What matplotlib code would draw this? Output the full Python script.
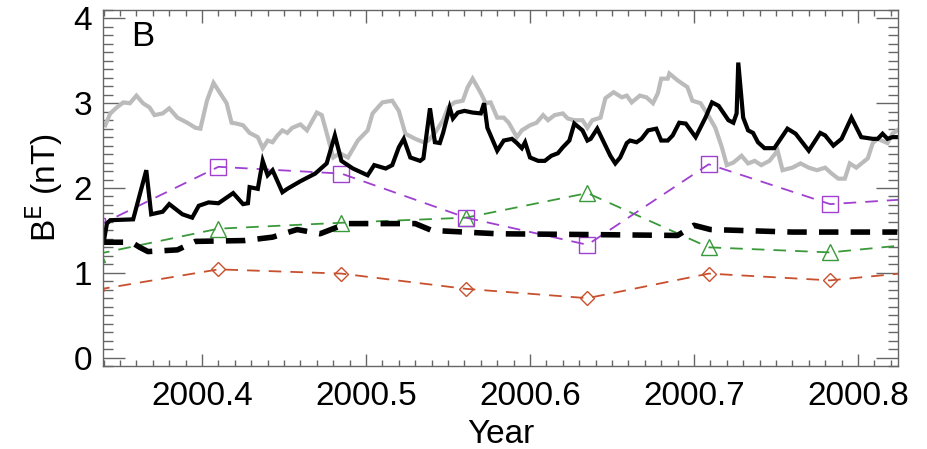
import numpy as np
import matplotlib
matplotlib.use('Agg')
import matplotlib.pyplot as plt
from matplotlib.ticker import MultipleLocator

plt.rcParams['font.family'] = ['Liberation Sans', 'DejaVu Sans']

# daily field strength, black = observed, grey = model
obs_x = [2000.340, 2000.342, 2000.344, 2000.358, 2000.366, 2000.369, 2000.376, 2000.380, 2000.388,
         2000.394, 2000.398, 2000.404, 2000.410, 2000.419, 2000.425, 2000.428, 2000.429, 2000.434,
         2000.437, 2000.440, 2000.443, 2000.449, 2000.452, 2000.460, 2000.463, 2000.469, 2000.476,
         2000.481, 2000.485, 2000.492, 2000.501, 2000.505, 2000.512, 2000.516, 2000.520, 2000.523,
         2000.527, 2000.533, 2000.535, 2000.539, 2000.542, 2000.545, 2000.547, 2000.551, 2000.553,
         2000.556, 2000.560, 2000.565, 2000.570, 2000.572, 2000.574, 2000.580, 2000.584, 2000.589,
         2000.592, 2000.595, 2000.597, 2000.600, 2000.605, 2000.609, 2000.613, 2000.617, 2000.620,
         2000.624, 2000.627, 2000.632, 2000.635, 2000.637, 2000.641, 2000.645, 2000.649, 2000.652,
         2000.655, 2000.659, 2000.661, 2000.665, 2000.668, 2000.672, 2000.677, 2000.680, 2000.684,
         2000.687, 2000.691, 2000.695, 2000.698, 2000.701, 2000.707, 2000.711, 2000.715, 2000.721,
         2000.724, 2000.726, 2000.727, 2000.730, 2000.733, 2000.736, 2000.739, 2000.743, 2000.749,
         2000.757, 2000.762, 2000.770, 2000.777, 2000.780, 2000.785, 2000.790, 2000.796, 2000.802,
         2000.809, 2000.812, 2000.815, 2000.818, 2000.821, 2000.824]
obs_y = [1.36, 1.58, 1.62, 1.63, 2.21, 1.69, 1.72, 1.81, 1.69,
         1.65, 1.79, 1.83, 1.82, 1.94, 1.81, 1.82, 2.01, 1.99,
         2.32, 2.15, 2.21, 1.95, 1.99, 2.08, 2.11, 2.17, 2.29,
         2.62, 2.32, 2.23, 2.15, 2.27, 2.23, 2.27, 2.48, 2.58,
         2.36, 2.32, 2.35, 2.94, 2.54, 2.53, 2.65, 2.95, 2.82,
         2.89, 2.91, 2.89, 2.88, 3.00, 2.71, 2.44, 2.56, 2.58,
         2.53, 2.47, 2.54, 2.36, 2.32, 2.32, 2.38, 2.41, 2.48,
         2.56, 2.76, 2.68, 2.56, 2.58, 2.70, 2.54, 2.38, 2.29,
         2.36, 2.53, 2.56, 2.54, 2.58, 2.68, 2.70, 2.56, 2.56,
         2.62, 2.77, 2.76, 2.68, 2.60, 2.83, 3.01, 2.97, 2.80,
         2.77, 2.88, 3.48, 2.83, 2.68, 2.65, 2.54, 2.47, 2.47,
         2.70, 2.64, 2.44, 2.65, 2.62, 2.50, 2.58, 2.83, 2.60,
         2.58, 2.58, 2.64, 2.58, 2.60, 2.60]

mod_x = [2000.341, 2000.344, 2000.348, 2000.352, 2000.356, 2000.360, 2000.364, 2000.368, 2000.371,
         2000.376, 2000.380, 2000.385, 2000.391, 2000.396, 2000.399, 2000.403, 2000.407, 2000.411,
         2000.415, 2000.418, 2000.421, 2000.425, 2000.429, 2000.434, 2000.437, 2000.440, 2000.443,
         2000.446, 2000.449, 2000.452, 2000.455, 2000.460, 2000.464, 2000.470, 2000.473, 2000.476,
         2000.480, 2000.484, 2000.489, 2000.495, 2000.501, 2000.504, 2000.510, 2000.516, 2000.520,
         2000.524, 2000.530, 2000.535, 2000.538, 2000.542, 2000.547, 2000.550, 2000.554, 2000.559,
         2000.562, 2000.565, 2000.570, 2000.573, 2000.576, 2000.580, 2000.584, 2000.587, 2000.592,
         2000.595, 2000.600, 2000.604, 2000.608, 2000.611, 2000.615, 2000.620, 2000.623, 2000.627,
         2000.632, 2000.635, 2000.638, 2000.643, 2000.646, 2000.651, 2000.656, 2000.659, 2000.662,
         2000.667, 2000.671, 2000.675, 2000.678, 2000.680, 2000.684, 2000.685, 2000.690, 2000.696,
         2000.699, 2000.704, 2000.708, 2000.713, 2000.717, 2000.720, 2000.724, 2000.729, 2000.733,
         2000.737, 2000.741, 2000.746, 2000.751, 2000.754, 2000.760, 2000.765, 2000.770, 2000.775,
         2000.780, 2000.784, 2000.788, 2000.792, 2000.795, 2000.799, 2000.806, 2000.809, 2000.812,
         2000.818, 2000.821, 2000.824]
mod_y = [2.74, 2.88, 2.95, 3.01, 3.00, 3.09, 3.00, 2.95, 2.86,
         2.88, 2.94, 2.83, 2.77, 2.71, 2.70, 3.03, 3.24, 3.12,
         3.00, 2.77, 2.76, 2.74, 2.65, 2.60, 2.47, 2.56, 2.54,
         2.62, 2.68, 2.65, 2.71, 2.75, 2.68, 2.89, 2.86, 2.65,
         2.36, 2.41, 2.36, 2.56, 2.68, 2.88, 3.01, 3.03, 2.91,
         2.64, 2.58, 2.54, 2.56, 2.65, 2.80, 2.95, 3.01, 3.03,
         3.19, 3.29, 3.12, 3.00, 3.01, 2.83, 2.83, 2.77, 2.60,
         2.68, 2.74, 2.77, 2.86, 2.80, 2.86, 2.88, 2.82, 2.80,
         2.80, 2.71, 2.80, 2.83, 3.06, 3.13, 3.07, 3.09, 3.01,
         3.09, 3.07, 3.00, 3.12, 3.29, 3.29, 3.35, 3.27, 3.19,
         3.03, 3.00, 2.88, 2.71, 2.48, 2.27, 2.30, 2.38, 2.29,
         2.32, 2.27, 2.32, 2.44, 2.21, 2.24, 2.29, 2.24, 2.21,
         2.24, 2.17, 2.11, 2.11, 2.29, 2.24, 2.35, 2.53, 2.58,
         2.53, 2.64, 2.68]

# smoothed background (thick dashed)
bg_x = [2000.340, 2000.357, 2000.362, 2000.367, 2000.385, 2000.396, 2000.426, 2000.443, 2000.458,
        2000.472, 2000.488, 2000.530, 2000.540, 2000.580, 2000.640, 2000.690, 2000.700, 2000.710,
        2000.760, 2000.824]
bg_y = [1.36, 1.36, 1.30, 1.25, 1.27, 1.37, 1.38, 1.42, 1.51,
        1.46, 1.58, 1.58, 1.50, 1.46, 1.45, 1.44, 1.56, 1.51,
        1.48, 1.48]

# rotation averages
rot_x = [2000.336, 2000.410, 2000.485, 2000.561, 2000.635, 2000.709, 2000.783, 2000.857]
rot_sq = [1.55, 2.25, 2.17, 1.65, 1.33, 2.28, 1.81, 1.90]
rot_tri = [1.22, 1.52, 1.59, 1.65, 1.94, 1.30, 1.24, 1.38]
rot_dia = [0.80, 1.04, 0.99, 0.81, 0.70, 0.99, 0.91, 1.05]

fig = plt.figure(figsize=(9.27, 4.49), dpi=100)
ax = fig.add_axes([0.1111, 0.1849, 0.8576, 0.7928])

ax.plot(mod_x, mod_y, color='#bbbbbb', lw=3.0, solid_joinstyle='miter')
ax.plot(rot_x, rot_dia, color='#c8502e', lw=1.3, dashes=(7, 5), marker='D', ms=7.5,
        mfc='none', mew=1.0)
ax.plot(rot_x, rot_tri, color='#3a9a3a', lw=1.3, dashes=(7, 5), marker='^', ms=12,
        mfc='none', mew=1.0)
ax.plot(rot_x, rot_sq, color='#a040d0', lw=1.3, dashes=(7, 5), marker='s', ms=11,
        mfc='none', mew=1.0)
ax.plot(bg_x, bg_y, color='black', lw=4.0, dashes=(3.5, 2.2))
ax.plot(obs_x, obs_y, color='black', lw=3.0, solid_joinstyle='miter')

ax.set_xlim(2000.3396, 2000.8244)
ax.set_ylim(-0.1, 4.1)
ax.set_xticks([2000.4, 2000.5, 2000.6, 2000.7, 2000.8])
ax.set_xticklabels(['2000.4', '2000.5', '2000.6', '2000.7', '2000.8'])
ax.xaxis.set_minor_locator(MultipleLocator(0.01))
ax.set_yticks([0, 1, 2, 3, 4])
ax.yaxis.set_minor_locator(MultipleLocator(0.1))

axis_col = '#666666'
for s in ax.spines.values():
    s.set_color(axis_col)
    s.set_linewidth(1.0)
ax.tick_params(axis='both', which='both', direction='in', top=True, right=True,
               color=axis_col, labelsize=24)
ax.tick_params(axis='x', which='major', length=9, width=1.0, pad=11)
ax.tick_params(axis='x', which='minor', length=4.5, width=1.0)
ax.tick_params(axis='y', which='major', length=16, width=1.0, pad=8)
ax.tick_params(axis='y', which='minor', length=7, width=1.0)

ax.set_xlabel('Year', fontsize=24, labelpad=5)
ax.set_ylabel('B$^{\\mathrm{E}}$ (nT)', fontsize=24, labelpad=6)
ax.text(0.035, 0.925, 'B', transform=ax.transAxes, fontsize=25, va='center', ha='left')

fig.savefig('out.png', dpi=100)
